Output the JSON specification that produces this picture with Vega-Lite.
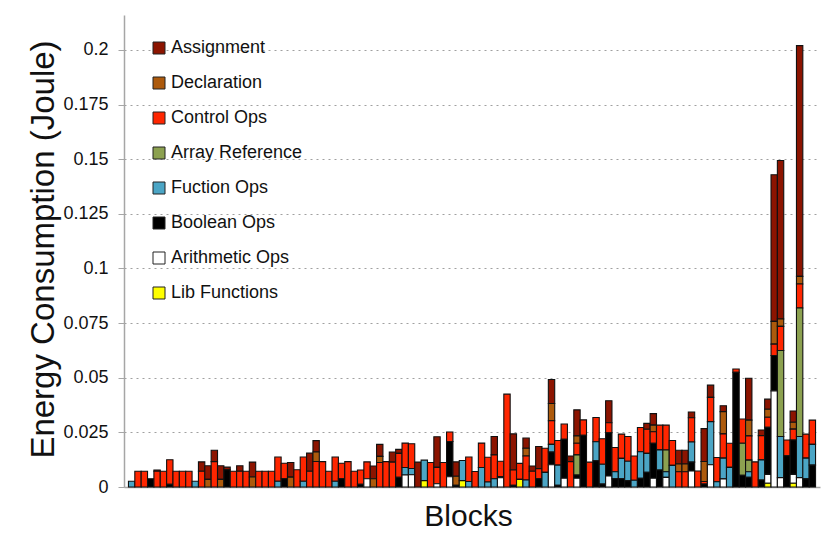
{
  "$schema": "https://vega.github.io/schema/vega-lite/v6.json",
  "autosize": {"type": "none"},
  "padding": {"left": 124, "top": 15, "right": 10, "bottom": 64},
  "width": 696,
  "height": 472,
  "background": "white",
  "data": {"values": [
    {"b":1,"fun":0.0026},
    {"b":2,"ctl":0.0072},
    {"b":3,"ctl":0.0072},
    {"b":4,"boo":0.0038},
    {"b":5,"ctl":0.0072,"asg":0.0006},
    {"b":6,"ctl":0.0072},
    {"b":7,"boo":0.0012,"ctl":0.0113},
    {"b":8,"ctl":0.0072},
    {"b":9,"ctl":0.0072},
    {"b":10,"ctl":0.0072},
    {"b":11,"fun":0.0026},
    {"b":12,"ctl":0.0072,"asg":0.0043},
    {"b":13,"dec":0.0035,"asg":0.0062},
    {"b":14,"ctl":0.0116,"asg":0.0052},
    {"b":15,"dec":0.0035,"asg":0.0062},
    {"b":16,"boo":0.0079,"asg":0.0012},
    {"b":17,"ctl":0.0072},
    {"b":18,"ctl":0.0072,"asg":0.0025},
    {"b":19,"ctl":0.0072},
    {"b":20,"dec":0.0046,"asg":0.0068},
    {"b":21,"ctl":0.0072},
    {"b":22,"ctl":0.0072},
    {"b":23,"ctl":0.0072},
    {"b":24,"fun":0.0026,"ctl":0.0111},
    {"b":25,"boo":0.0038,"ctl":0.0071},
    {"b":26,"dec":0.0045,"asg":0.0067},
    {"b":27,"ctl":0.0079},
    {"b":28,"fun":0.0026,"ctl":0.0111},
    {"b":29,"ctl":0.0072,"asg":0.0083},
    {"b":30,"ctl":0.0117,"dec":0.0043,"asg":0.0052},
    {"b":31,"ctl":0.0116},
    {"b":32,"ctl":0.0072},
    {"b":33,"fun":0.0026,"ctl":0.0111},
    {"b":34,"boo":0.0038,"ctl":0.0071},
    {"b":35,"ctl":0.0116},
    {"b":36,"ctl":0.0072},
    {"b":37,"boo":0.0012,"ctl":0.0066},
    {"b":38,"ari":0.0038,"ctl":0.0077},
    {"b":39,"dec":0.0038,"asg":0.0058},
    {"b":40,"ctl":0.0112,"dec":0.0028,"asg":0.0055},
    {"b":41,"ctl":0.0116},
    {"b":42,"ctl":0.0114,"asg":0.0046},
    {"b":43,"boo":0.0044,"ctl":0.011,"asg":0.0018},
    {"b":44,"ari":0.0055,"fun":0.0034,"ctl":0.0112},
    {"b":45,"ari":0.0056,"fun":0.0029,"ctl":0.0113},
    {"b":46,"asg":0.0114},
    {"b":47,"lib":0.0029,"fun":0.0094},
    {"b":48,"ctl":0.0112},
    {"b":49,"ari":0.0015,"ctl":0.0075,"asg":0.014},
    {"b":50,"ctl":0.0112},
    {"b":51,"ari":0.0047,"boo":0.0161,"ctl":0.0044},
    {"b":52,"boo":0.0008,"dec":0.0041,"asg":0.0066},
    {"b":53,"lib":0.0029,"fun":0.0092},
    {"b":54,"fun":0.0025,"ctl":0.0112},
    {"b":55,"ctl":0.0071},
    {"b":56,"fun":0.0089,"ctl":0.0112},
    {"b":57,"fun":0.0023,"ctl":0.0113},
    {"b":58,"fun":0.0038,"ctl":0.0109,"asg":0.0084},
    {"b":59,"ari":0.0042,"boo":0.0006,"ctl":0.007},
    {"b":60,"ctl":0.0425},
    {"b":61,"boo":0.0008,"ctl":0.007,"asg":0.0165},
    {"b":62,"lib":0.0035,"ctl":0.0073},
    {"b":63,"fun":0.0032,"ctl":0.011,"dec":0.0035,"asg":0.0047},
    {"b":64,"ctl":0.0072,"asg":0.0024},
    {"b":65,"boo":0.0038,"ctl":0.0046,"asg":0.0101},
    {"b":66,"fun":0.0067,"ctl":0.011},
    {"b":67,"ari":0.0102,"boo":0.0058,"fun":0.0035,"ctl":0.0108,"dec":0.0079,"asg":0.011},
    {"b":68,"boo":0.0008,"fun":0.0092,"ctl":0.0113},
    {"b":69,"ari":0.004,"boo":0.0178,"ctl":0.007},
    {"b":70,"ctl":0.0116,"asg":0.0026},
    {"b":71,"ari":0.004,"boo":0.0015,"arr":0.0092,"ctl":0.0053,"dec":0.0034,"asg":0.0119},
    {"b":72,"boo":0.0237,"ctl":0.007},
    {"b":73,"ctl":0.0114},
    {"b":74,"boo":0.012,"fun":0.0087,"ctl":0.0111},
    {"b":75,"boo":0.0014,"fun":0.009,"ctl":0.0117},
    {"b":76,"ari":0.005,"boo":0.0198,"ctl":0.0046,"asg":0.0101},
    {"b":77,"boo":0.0038,"fun":0.0032,"ctl":0.0111},
    {"b":78,"boo":0.0038,"fun":0.0093,"ctl":0.0111},
    {"b":79,"boo":0.0029,"fun":0.0089,"ctl":0.0113},
    {"b":80,"fun":0.0031,"ctl":0.0111},
    {"b":81,"boo":0.004,"fun":0.0121,"ctl":0.0111},
    {"b":82,"boo":0.0067,"fun":0.0087,"ctl":0.011,"asg":0.0027},
    {"b":83,"ari":0.004,"boo":0.016,"ctl":0.0053,"dec":0.003,"asg":0.0053},
    {"b":84,"boo":0.0078,"fun":0.0092,"ctl":0.0113},
    {"b":85,"ari":0.0044,"fun":0.0026,"arr":0.0099,"ctl":0.0114},
    {"b":86,"fun":0.0099,"ctl":0.0114},
    {"b":87,"ctl":0.007,"dec":0.0035,"asg":0.0063},
    {"b":88,"ctl":0.007,"dec":0.0035,"asg":0.0063},
    {"b":89,"ari":0.0073,"boo":0.0041,"fun":0.0092,"ctl":0.0111,"asg":0.0026},
    {"b":90,"ctl":0.0073},
    {"b":91,"boo":0.0014,"ctl":0.0011,"dec":0.0092,"asg":0.015},
    {"b":92,"ari":0.0102,"fun":0.0197,"ctl":0.0111,"asg":0.0056},
    {"b":93,"fun":0.0024,"ctl":0.0111},
    {"b":94,"ari":0.0037,"fun":0.0095,"ctl":0.0111,"dec":0.0102,"asg":0.0027},
    {"b":95,"fun":0.009,"ctl":0.011},
    {"b":96,"boo":0.0525,"ctl":0.0015},
    {"b":97,"boo":0.0053,"arr":0.0147,"ctl":0.0111},
    {"b":98,"boo":0.0044,"fun":0.0026,"arr":0.0053,"ctl":0.0111,"dec":0.0072,"asg":0.0192},
    {"b":99,"ctl":0.0115},
    {"b":100,"boo":0.0032,"fun":0.0092,"ctl":0.0111,"asg":0.0026},
    {"b":101,"lib":0.0017,"ari":0.0041,"boo":0.0215,"ctl":0.0046,"dec":0.0037,"asg":0.0046},
    {"b":102,"ari":0.044,"boo":0.0162,"ctl":0.0052,"dec":0.0104,"asg":0.0671},
    {"b":103,"ari":0.0043,"fun":0.0188,"arr":0.0394,"ctl":0.011,"dec":0.0034,"asg":0.0725},
    {"b":104,"boo":0.0143,"ctl":0.0072},
    {"b":105,"lib":0.0017,"ari":0.0041,"boo":0.0157,"ctl":0.005,"dec":0.0031,"asg":0.0052},
    {"b":106,"ari":0.0043,"fun":0.0188,"arr":0.0588,"ctl":0.011,"dec":0.0035,"asg":0.1056},
    {"b":107,"boo":0.0037,"fun":0.0095,"ctl":0.011},
    {"b":108,"boo":0.01,"fun":0.0095,"ctl":0.0111}
  ]},
  "transform": [
    {"fold": ["asg","dec","ctl","arr","fun","boo","ari","lib"], "as": ["k","v"]},
    {"filter": "isValid(datum.v) && datum.v > 0"},
    {"lookup": "k", "from": {"data": {"values": [
      {"k":"asg","label":"Assignment","r":8},
      {"k":"dec","label":"Declaration","r":7},
      {"k":"ctl","label":"Control Ops","r":6},
      {"k":"arr","label":"Array Reference","r":5},
      {"k":"fun","label":"Fuction Ops","r":4},
      {"k":"boo","label":"Boolean Ops","r":3},
      {"k":"ari","label":"Arithmetic Ops","r":2},
      {"k":"lib","label":"Lib Functions","r":1}
    ]}, "key": "k", "fields": ["label","r"]}}
  ],
  "mark": {"type": "bar", "stroke": "#111111", "strokeWidth": 1.1},
  "encoding": {
    "x": {
      "field": "b", "type": "ordinal",
      "scale": {"paddingInner": 0, "paddingOuter": 0.7},
      "axis": {
        "title": "Blocks", "labels": false, "ticks": false, "grid": false,
        "domainColor": "#a6a6a6", "domainWidth": 1.5,
        "titleFont": "Liberation Sans", "titleFontSize": 30, "titleFontWeight": "normal",
        "titleColor": "#111", "titleBaseline": "alphabetic", "titleAlign": "center",
        "titleX": 344, "titleY": 38
      }
    },
    "y": {
      "field": "v", "type": "quantitative",
      "scale": {"domain": [0, 0.216], "nice": false, "zero": true},
      "axis": {
        "title": "Energy Consumption (Joule)",
        "values": [0, 0.025, 0.05, 0.075, 0.1, 0.125, 0.15, 0.175, 0.2],
        "format": ".3~f",
        "grid": true, "gridColor": "#a0a0a0", "gridDash": [2, 4], "gridWidth": 1,
        "domainColor": "#a6a6a6", "domainWidth": 1.5,
        "tickColor": "#a6a6a6", "tickSize": 6, "tickWidth": 1,
        "labelFont": "Liberation Sans", "labelFontSize": 18, "labelColor": "#111", "labelPadding": 10,
        "titleFont": "Liberation Sans", "titleFontSize": 33, "titleFontWeight": "normal",
        "titleColor": "#111", "titleAngle": 270, "titleBaseline": "alphabetic", "titleAlign": "center",
        "titleX": -71, "titleY": 234
      }
    },
    "color": {
      "field": "label", "type": "nominal",
      "scale": {
        "domain": ["Assignment","Declaration","Control Ops","Array Reference","Fuction Ops","Boolean Ops","Arithmetic Ops","Lib Functions"],
        "range": ["#8C1400","#AD5A0C","#FF2600","#8CA150","#4BA5C5","#000000","#FFFFFF","#FFFF00"]
      },
      "legend": {
        "title": null, "orient": "none", "legendX": 26, "legendY": 24, "padding": 0,
        "symbolType": "square", "symbolSize": 144, "symbolStrokeColor": "#222", "symbolStrokeWidth": 1,
        "labelFont": "Liberation Sans", "labelFontSize": 18, "labelColor": "#111", "labelOffset": 3,
        "rowPadding": 17
      }
    },
    "order": {"field": "r", "type": "quantitative", "sort": "ascending"}
  },
  "config": {"view": {"stroke": null}}
}
